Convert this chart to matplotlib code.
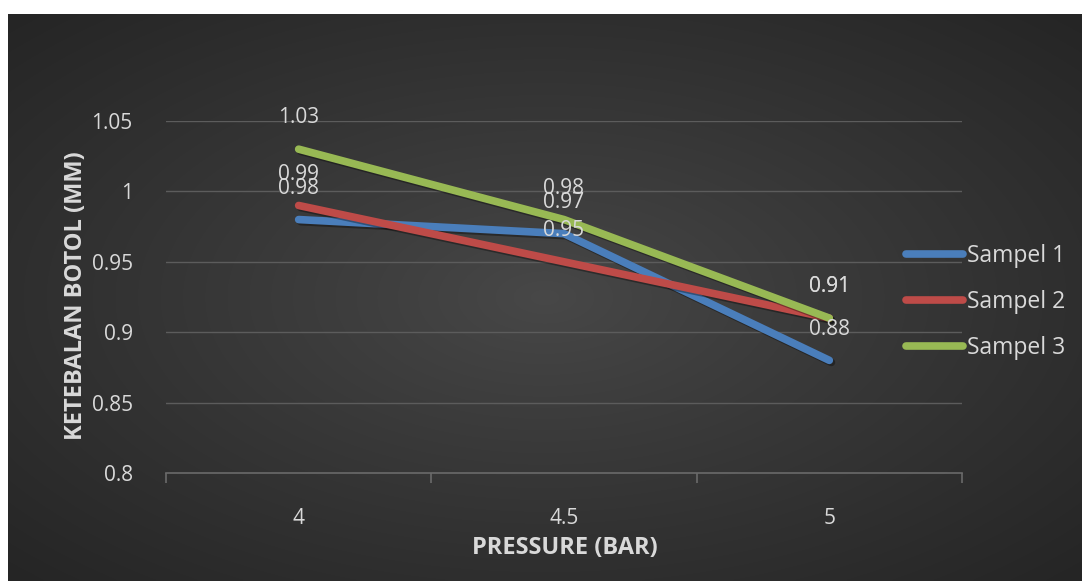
import numpy as np
import matplotlib
matplotlib.use("Agg")
import matplotlib.pyplot as plt
import matplotlib.patheffects as pe

plt.rcParams['font.family'] = ['Open Sans', 'DejaVu Sans']

# Data
pressure = ["4", "4.5", "5"]
sampel_1 = [0.98, 0.97, 0.88]
sampel_2 = [0.99, 0.95, 0.91]
sampel_3 = [1.03, 0.98, 0.91]
series_names = ["Sampel 1", "Sampel 2", "Sampel 3"]
series_colors = ["#4A7EBB", "#BE4B48", "#98B954"]
y_ticks = [0.8, 0.85, 0.9, 0.95, 1.0, 1.05]
y_tick_labels = ["0.8", "0.85", "0.9", "0.95", "1", "1.05"]

W, H = 1082, 581
fig = plt.figure(figsize=(W / 100, H / 100), dpi=100)
fig.patch.set_facecolor("white")

# Dark radial-gradient panel
bg = fig.add_axes([8 / W, 0, 1 - 8 / W, 1 - 14 / H], zorder=0)
gx, gy = np.meshgrid(np.linspace(-1, 1, 400), np.linspace(-1, 1, 220))
r = np.sqrt(gx ** 2 + gy ** 2) / np.sqrt(2)
r = np.clip(r, 0, 1)
c_in, c_out = 0x48 / 255, 0x25 / 255
val = c_in + (c_out - c_in) * r ** 0.9
img = np.dstack([val, val, val])
bg.imshow(img, aspect="auto", extent=[0, 1, 0, 1], interpolation="bilinear")
bg.set_axis_off()

ax = fig.add_axes([166 / W, 1 - 473 / H, (962 - 166) / W, (473 - 121) / H], zorder=1)
ax.set_facecolor("none")

x = np.arange(len(pressure))
shadow = [pe.SimpleLineShadow(offset=(1.5, -1.5), shadow_color="black", alpha=0.35),
          pe.Normal()]
data = [sampel_1, sampel_2, sampel_3]
for vals, name, col in zip(data, series_names, series_colors):
    ax.plot(x, vals, color=col, lw=5.5, solid_capstyle="round", label=name,
            path_effects=shadow, zorder=3)

# Value labels above each point
for vals in data:
    for xi, v in zip(x, vals):
        ax.annotate(f"{v:g}", (xi, v), xytext=(0, 22.5), textcoords="offset points",
                    ha="center", va="center", fontsize=15, color="#D9D9D9", zorder=4)

ax.set_xlim(-0.5, len(pressure) - 0.5)
ax.set_ylim(0.8, 1.05)
ax.set_yticks(y_ticks)
ax.set_yticklabels(y_tick_labels)
ax.set_xticks(x)
ax.set_xticklabels(pressure)
ax.set_xticks(np.arange(-0.5, len(pressure), 1.0), minor=True)

for yt in y_ticks[1:]:
    ax.axhline(yt, color="#5C5C5C", lw=1.0, zorder=1)

for s in ["top", "right", "left"]:
    ax.spines[s].set_visible(False)
ax.spines["bottom"].set_color("#6A6A6A")
ax.spines["bottom"].set_linewidth(1.2)

ax.tick_params(axis="y", length=0, pad=24, labelsize=15, labelcolor="#D9D9D9")
ax.tick_params(axis="x", which="major", length=0, pad=25, labelsize=15, labelcolor="#D9D9D9")
ax.tick_params(axis="x", which="minor", length=7, width=1.2, color="#6A6A6A")

fig.text(565 / W, 1 - 548 / H, "PRESSURE (BAR)", ha="center", va="center",
         fontsize=17, fontweight="bold", color="#D9D9D9")
fig.text(76 / W, 1 - 296 / H, "KETEBALAN BOTOL (MM)", ha="center", va="center",
         rotation=90, fontsize=17, fontweight="bold", color="#D9D9D9")

leg = fig.legend(loc="center left", bbox_to_anchor=(906 / W, 1 - 302 / H),
                 frameon=False, fontsize=16.5, handlelength=2.5, handletextpad=0.15,
                 labelspacing=0.98, borderpad=0, borderaxespad=0)
for t in leg.get_texts():
    t.set_color("#D9D9D9")
for h in leg.legend_handles:
    h.set_linewidth(5.5)
    h.set_path_effects([])

fig.savefig("out.png", dpi=100)
